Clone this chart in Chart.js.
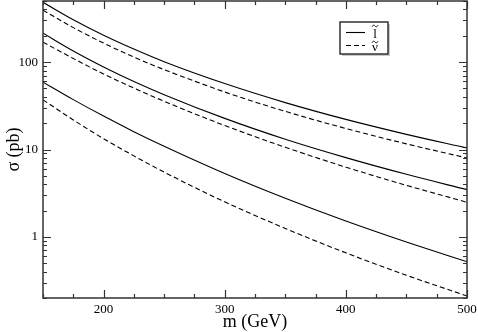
<!DOCTYPE html>
<html>
<head>
<meta charset="utf-8">
<script src="https://cdn.jsdelivr.net/npm/chart.js@4.4.1/dist/chart.umd.min.js"></script>
<style>
    body { margin: 0; background: #fff; }
    canvas { display: block; }
</style>
</head>
<body>
<canvas id="chart" width="478" height="332"></canvas>
<script>
// masses in GeV, cross sections in pb
const masses = [150, 175, 200, 225, 250, 300, 350, 400, 450, 500];

const sleptonHigh = [483, 305, 203, 141, 101, 56.8, 34.4, 22.1, 14.9, 10.4];
const sleptonMid = [214, 134, 88, 60, 42.4, 22.7, 13.1, 8.07, 5.2, 3.47];
const sleptonLow = [59, 37.2, 24.1, 16.0, 10.9, 5.32, 2.77, 1.52, 0.874, 0.52];

const sneutrinoHigh = [392, 248, 165, 114, 82, 45.5, 27.3, 17.4, 11.6, 8.0];
const sneutrinoMid = [169, 110, 73, 50.5, 35.6, 18.8, 10.6, 6.28, 3.89, 2.49];
const sneutrinoLow = [37, 21.8, 13.3, 8.45, 5.51, 2.52, 1.25, 0.657, 0.364, 0.211];

const xLabels = [200, 300, 400, 500];
const yLabels = [1, 10, 100];
// letters of the legend, each drawn with a tilde on top
const legendLetters = ['l', '\u03bd'];

const serif = '"Liberation Serif", "DejaVu Serif", serif';

function toPoints(values) {
    return masses.map((m, i) => ({ x: m, y: values[i] }));
}

function curve(values, dashed) {
    return {
        data: toPoints(values),
        borderColor: '#000',
        borderWidth: 1.1,
        borderDash: dashed ? [5, 3] : [],
        pointRadius: 0,
        fill: false,
        cubicInterpolationMode: 'monotone'
    };
}

function drawTilde(ctx, cx, y) {
    ctx.beginPath();
    ctx.moveTo(cx - 3, y + 0.8);
    ctx.bezierCurveTo(cx - 2, y - 1.2, cx - 0.8, y - 1.2, cx, y);
    ctx.bezierCurveTo(cx + 0.8, y + 1.2, cx + 2, y + 1.2, cx + 3, y - 0.8);
    ctx.stroke();
}

// frame, inward ticks, tick labels, axis titles and legend box
const framePlugin = {
    id: 'frame',
    afterDatasetsDraw(chart) {
        const ctx = chart.ctx;
        const area = chart.chartArea;
        const xs = chart.scales.x;
        const ys = chart.scales.y;
        ctx.save();
        ctx.strokeStyle = '#333';
        ctx.lineWidth = 1.5;
        ctx.strokeRect(area.left, area.top, area.right - area.left, area.bottom - area.top);

        ctx.lineWidth = 1.2;
        ctx.beginPath();
        for (let m = 150; m <= 500; m += 25) {
            const px = Math.round(xs.getPixelForValue(m)) + 0.5;
            const len = m % 100 === 0 ? 8 : 4;
            ctx.moveTo(px, area.bottom);
            ctx.lineTo(px, area.bottom - len);
            ctx.moveTo(px, area.top);
            ctx.lineTo(px, area.top + len);
        }
        [0.1, 1, 10, 100].forEach(decade => {
            for (let k = 1; k <= 9; k++) {
                const v = decade * k;
                if (v < 0.2 || v > 500) continue;
                const py = Math.round(ys.getPixelForValue(v)) + 0.5;
                const len = k === 1 ? 8 : 4;
                ctx.moveTo(area.left, py);
                ctx.lineTo(area.left + len, py);
                ctx.moveTo(area.right, py);
                ctx.lineTo(area.right - len, py);
            }
        });
        ctx.stroke();

        ctx.fillStyle = '#000';
        ctx.font = '13px ' + serif;
        ctx.textAlign = 'center';
        ctx.textBaseline = 'middle';
        xLabels.forEach(v => ctx.fillText(String(v), xs.getPixelForValue(v), 310));
        ctx.textAlign = 'right';
        yLabels.forEach(v => ctx.fillText(String(v), 38, ys.getPixelForValue(v)));

        ctx.font = '18px ' + serif;
        ctx.textAlign = 'center';
        ctx.fillText('m (GeV)', (area.left + area.right) / 2, 322);
        ctx.save();
        ctx.translate(14, (area.top + area.bottom) / 2);
        ctx.rotate(-Math.PI / 2);
        ctx.fillText('\u03c3 (pb)', 0, 0);
        ctx.restore();

        // legend
        const bx = 340, by = 22, bw = 48, bh = 32;
        ctx.fillStyle = '#c8c8c8';
        ctx.fillRect(bx + 2, by + bh, bw, 2);
        ctx.fillRect(bx + bw, by + 2, 2, bh);
        ctx.fillStyle = '#fff';
        ctx.fillRect(bx, by, bw, bh);
        ctx.strokeStyle = '#333';
        ctx.lineWidth = 1.5;
        ctx.strokeRect(bx, by, bw, bh);
        [0, 1].forEach(i => {
            const ly = by + 10 + i * 13 + 0.5;
            ctx.strokeStyle = '#000';
            ctx.lineWidth = 1.1;
            ctx.setLineDash(i === 1 ? [5, 3] : []);
            ctx.beginPath();
            ctx.moveTo(bx + 6, ly);
            ctx.lineTo(bx + 25, ly);
            ctx.stroke();
            ctx.setLineDash([]);
            ctx.fillStyle = '#000';
            ctx.font = '13px ' + serif;
            ctx.textAlign = 'center';
            const cx = bx + 35;
            ctx.fillText(legendLetters[i], cx, ly + 2);
            ctx.lineWidth = 0.9;
            drawTilde(ctx, cx, i === 0 ? ly - 6.5 : ly - 3.5);
        });
        ctx.restore();
    }
};

new Chart(document.getElementById('chart'), {
    type: 'line',
    data: {
        datasets: [
            curve(sleptonHigh, false),
            curve(sneutrinoHigh, true),
            curve(sleptonMid, false),
            curve(sneutrinoMid, true),
            curve(sleptonLow, false),
            curve(sneutrinoLow, true)
        ]
    },
    options: {
        responsive: false,
        animation: false,
        layout: { padding: { left: 43, right: 11, top: 1, bottom: 34 } },
        plugins: { legend: { display: false }, tooltip: { enabled: false } },
        scales: {
            x: { type: 'linear', min: 150, max: 500, display: false },
            y: { type: 'logarithmic', min: 0.2, max: 500, display: false }
        }
    },
    plugins: [framePlugin]
});
</script>
</body>
</html>
